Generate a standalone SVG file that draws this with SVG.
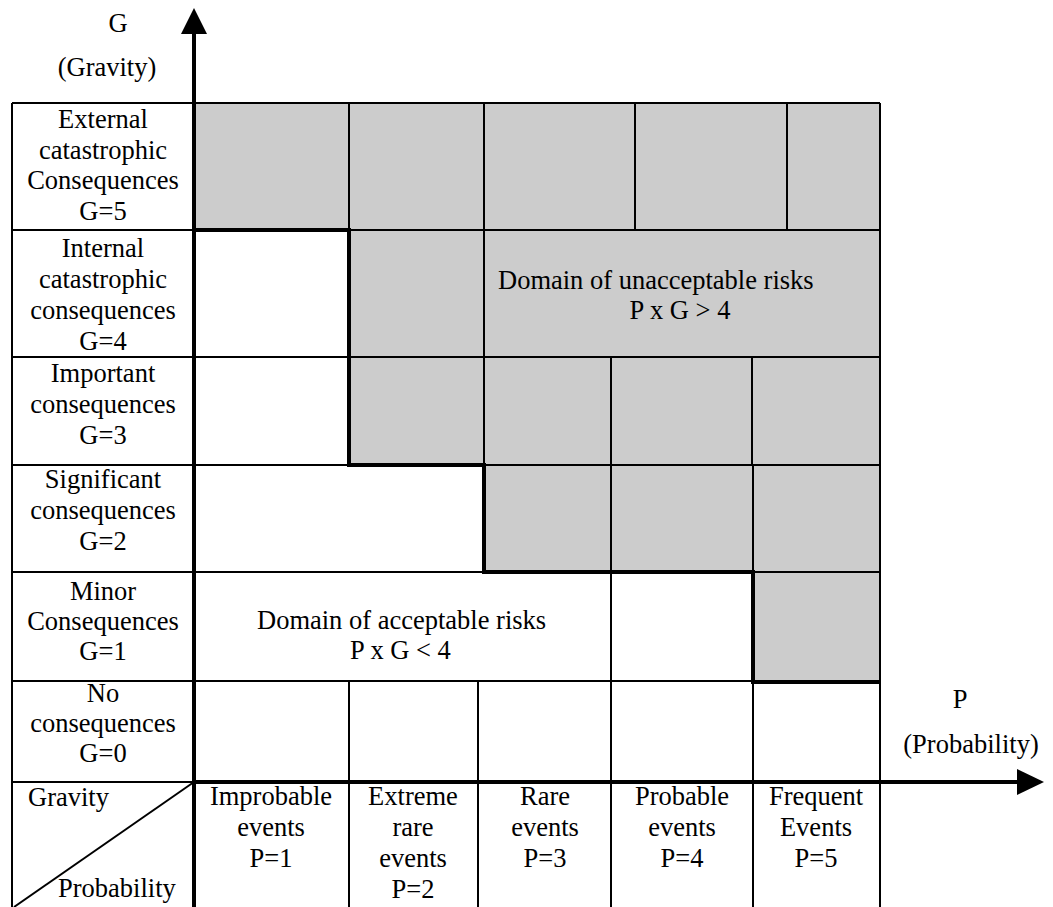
<svg xmlns="http://www.w3.org/2000/svg" width="1053" height="907" viewBox="0 0 1053 907" font-family="'Liberation Serif', 'DejaVu Serif', serif">
<style>
text{font-family:'Liberation Serif','DejaVu Serif',serif;font-size:26.5px;fill:#000}
.c{text-anchor:middle}
.g{fill:#cccccc;stroke:none}
.ln{stroke:#000;stroke-width:2;fill:none}
.th{stroke:#000;stroke-width:4;fill:none}
</style>
<rect width="1053" height="907" fill="#fff"/>
<g id="shading">
<rect class="g" x="194" y="103" width="686" height="127"/>
<rect class="g" x="349" y="230" width="531" height="235"/>
<rect class="g" x="483" y="465" width="397" height="107"/>
<rect class="g" x="753" y="572" width="127" height="110"/>
</g>
<g id="grid">
<path class="ln" d="M12,103 H880 M12,103 V907 M880,103 V907"/>
<path class="ln" d="M12,230 H880 M12,357 H880 M12,465 H880 M12,572 H880 M12,681 H880 M12,782 H194"/>
<path class="ln" d="M349,103 V230 M484,103 V230 M635,103 V230 M787,103 V230"/>
<path class="ln" d="M484,230 V357"/>
<path class="ln" d="M484,357 V465 M611,357 V465 M752,357 V465"/>
<path class="ln" d="M611,465 V572 M753,465 V572"/>
<path class="ln" d="M611,572 V681"/>
<path class="ln" d="M349,681 V907 M478,681 V907 M611,681 V907 M753,681 V907"/>
<path class="ln" d="M194,782 L14,907" stroke-width="1.5"/>
</g>
<g id="boundary">
<path class="th" d="M194,230 H349 V465 H484 V572 H753 V682 H880"/>
</g>
<g id="axes">
<path class="th" d="M194,907 V30"/>
<path d="M181,34 L194,8 L207,34 Z" fill="#000"/>
<path class="th" d="M194,782 H1020"/>
<path d="M1017,769 L1044,782 L1017,795 Z" fill="#000"/>
</g>
<g id="axis-labels">
<text class="c" x="118" y="32">G</text>
<text class="c" x="107" y="76">(Gravity)</text>
<text class="c" x="960" y="708">P</text>
<text class="c" x="971" y="753">(Probability)</text>
</g>
<g id="row-g5"><text class="c" x="103" y="128">External</text><text class="c" x="103" y="159">catastrophic</text><text class="c" x="103" y="189">Consequences</text><text class="c" x="103" y="220">G=5</text></g>
<g id="row-g4"><text class="c" x="103" y="257">Internal</text><text class="c" x="103" y="288">catastrophic</text><text class="c" x="103" y="319">consequences</text><text class="c" x="103" y="350">G=4</text></g>
<g id="row-g3"><text class="c" x="103" y="382">Important</text><text class="c" x="103" y="413">consequences</text><text class="c" x="103" y="444">G=3</text></g>
<g id="row-g2"><text class="c" x="103" y="488">Significant</text><text class="c" x="103" y="519">consequences</text><text class="c" x="103" y="550">G=2</text></g>
<g id="row-g1"><text class="c" x="103" y="600">Minor</text><text class="c" x="103" y="630">Consequences</text><text class="c" x="103" y="660">G=1</text></g>
<g id="row-g0"><text class="c" x="103" y="702">No</text><text class="c" x="103" y="732">consequences</text><text class="c" x="103" y="762">G=0</text></g>
<g id="corner"><text x="28" y="806">Gravity</text><text x="58" y="897">Probability</text></g>
<g id="col-p1"><text class="c" x="271" y="805">Improbable</text><text class="c" x="271" y="836">events</text><text class="c" x="271" y="867">P=1</text></g>
<g id="col-p2"><text class="c" x="413" y="805">Extreme</text><text class="c" x="413" y="836">rare</text><text class="c" x="413" y="867">events</text><text class="c" x="413" y="898">P=2</text></g>
<g id="col-p3"><text class="c" x="545" y="805">Rare</text><text class="c" x="545" y="836">events</text><text class="c" x="545" y="867">P=3</text></g>
<g id="col-p4"><text class="c" x="682" y="805">Probable</text><text class="c" x="682" y="836">events</text><text class="c" x="682" y="867">P=4</text></g>
<g id="col-p5"><text class="c" x="816" y="805">Frequent</text><text class="c" x="816" y="836">Events</text><text class="c" x="816" y="867">P=5</text></g>
<g id="unacceptable"><text x="498" y="289">Domain of unacceptable risks</text><text class="c" x="680" y="319">P x G &gt; 4</text></g>
<g id="acceptable"><text x="257" y="629">Domain of acceptable risks</text><text x="350" y="659">P x G &lt; 4</text></g>
</svg>
